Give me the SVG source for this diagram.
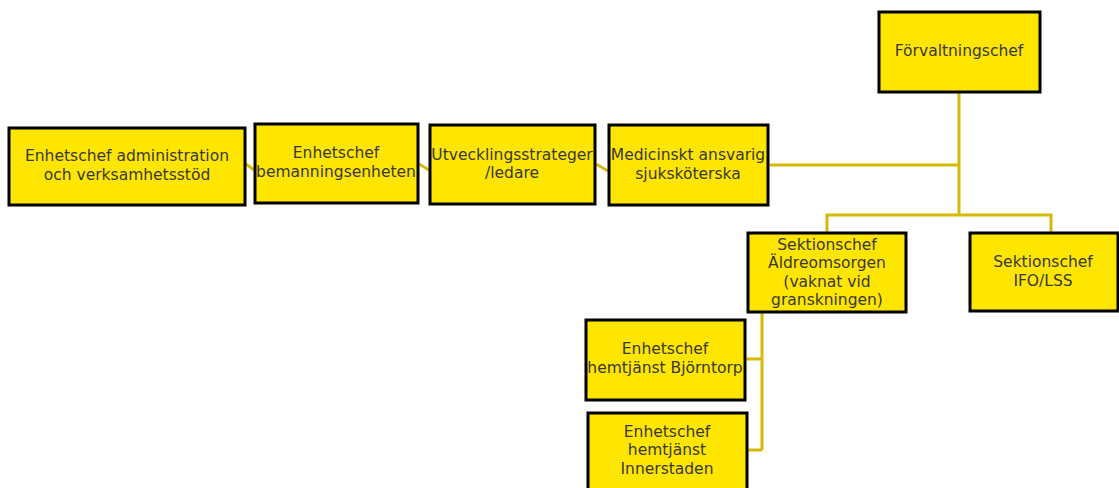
<svg xmlns="http://www.w3.org/2000/svg" width="1119" height="488" viewBox="0 0 1119 488">
<style>
.box{fill:#FFE600;stroke:#000;stroke-width:3}
.t{font-family:"DejaVu Sans","Liberation Sans",sans-serif;font-size:15.5px;fill:#383838;text-anchor:middle}
.c{fill:none;stroke:#D4BA08;stroke-width:3}
</style>
<rect width="1119" height="488" fill="#fff"/>
<g id="connectors">
<polyline class="c" points="959,93 959,215"/>
<polyline class="c" points="769,165 959,165"/>
<polyline class="c" points="827,232 827,215 1051,215 1051,232"/>
<polyline class="c" points="246,164 254,170"/>
<polyline class="c" points="419,164 429,170"/>
<polyline class="c" points="596,164 608,171"/>
<polyline class="c" points="762,313 762,450"/>
<polyline class="c" points="746,359 762,359"/>
<polyline class="c" points="748,450 762,450"/>
</g>
<g id="forvaltningschef"><rect class="box" x="879" y="12" width="161" height="80"/><text class="t" x="959" y="56">Förvaltningschef</text></g>
<g id="admin"><rect class="box" x="9" y="128" width="236" height="77"/><text class="t" x="127" y="161">Enhetschef administration</text><text class="t" x="127" y="180">och verksamhetsstöd</text></g>
<g id="bemanning"><rect class="box" x="255" y="124" width="163" height="79"/><text class="t" x="336" y="158">Enhetschef</text><text class="t" x="336" y="177">bemanningsenheten</text></g>
<g id="utveckling"><rect class="box" x="430" y="125" width="165" height="79"/><text class="t" x="512" y="160">Utvecklingsstrateger</text><text class="t" x="512" y="178">/ledare</text></g>
<g id="medicinskt"><rect class="box" x="609" y="125" width="159" height="80"/><text class="t" x="688" y="160">Medicinskt ansvarig</text><text class="t" x="688" y="179">sjuksköterska</text></g>
<g id="aldre"><rect class="box" x="748" y="233" width="158" height="79"/><text class="t" x="827" y="250">Sektionschef</text><text class="t" x="827" y="268">Äldreomsorgen</text><text class="t" x="827" y="287">(vaknat vid</text><text class="t" x="827" y="305">granskningen)</text></g>
<g id="ifo"><rect class="box" x="970" y="233" width="148" height="78"/><text class="t" x="1043" y="267">Sektionschef</text><text class="t" x="1043" y="286">IFO/LSS</text></g>
<g id="bjorntorp"><rect class="box" x="586" y="320" width="159" height="80"/><text class="t" x="665" y="354">Enhetschef</text><text class="t" x="665" y="373">hemtjänst Björntorp</text></g>
<g id="innerstaden"><rect class="box" x="588" y="413" width="159" height="80"/><text class="t" x="667" y="437">Enhetschef</text><text class="t" x="667" y="455">hemtjänst</text><text class="t" x="667" y="474">Innerstaden</text></g>
</svg>
